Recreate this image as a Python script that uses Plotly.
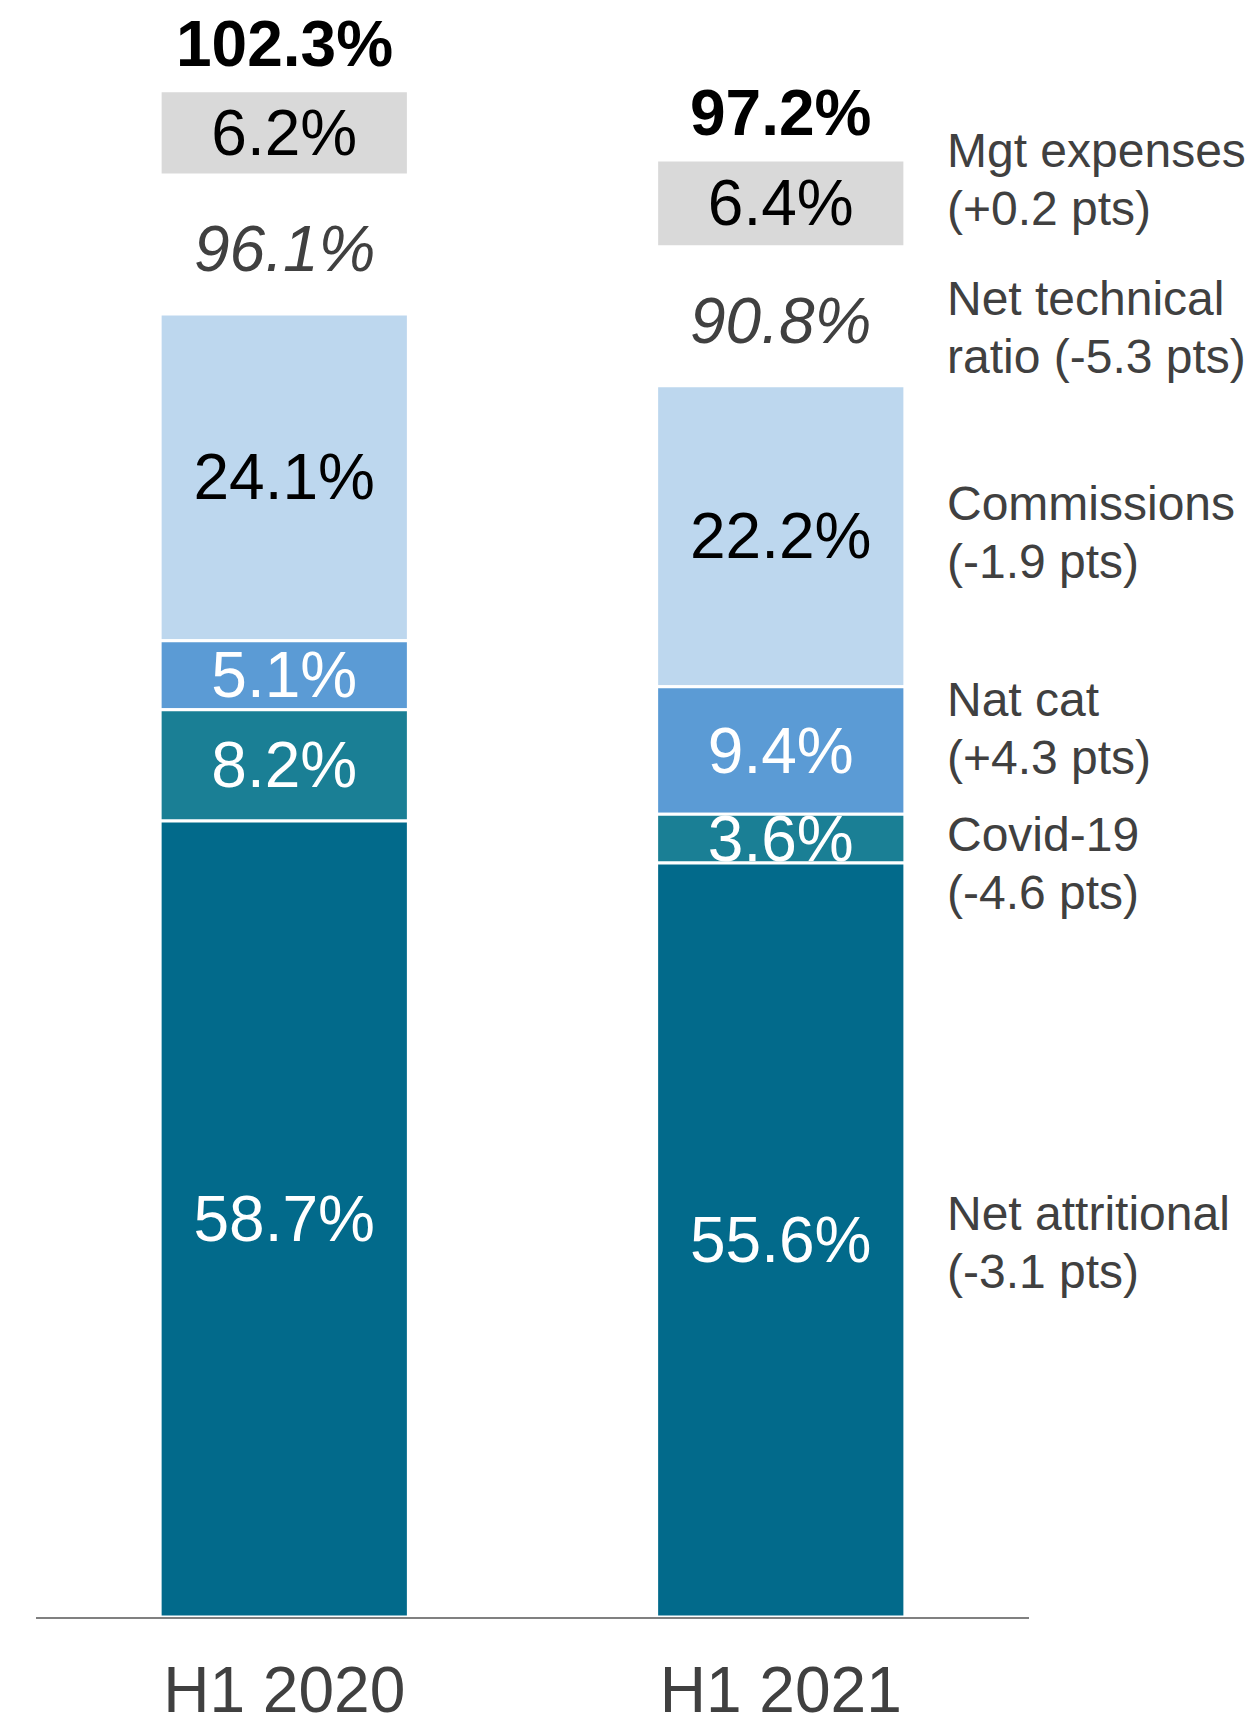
import plotly.graph_objects as go

# Combined ratio breakdown, half-year comparison (% of net earned premium)
periods = ["H1 2020", "H1 2021"]
net_attritional = [58.7, 55.6]
covid = [8.2, 3.6]
nat_cat = [5.1, 9.4]
commissions = [24.1, 22.2]
mgt_expenses = [6.2, 6.4]

# Right-hand legend text, one entry per component (two lines each)
side_labels = [
    ("Mgt expenses", "(+0.2 pts)"),
    ("Net technical", "ratio (-5.3 pts)"),
    ("Commissions", "(-1.9 pts)"),
    ("Nat cat", "(+4.3 pts)"),
    ("Covid-19", "(-4.6 pts)"),
    ("Net attritional", "(-3.1 pts)"),
]

# Derived totals
net_technical = [a + b + c + d for a, b, c, d in zip(net_attritional, covid, nat_cat, commissions)]
combined = [n + m for n, m in zip(net_technical, mgt_expenses)]

# Layout constants
FONT = "Liberation Sans, Arial, sans-serif"
BIG = 64
SMALL = 48
GAP = 10.25            # blank band between technical ratio and expenses box
Y_MAX = 119.25
LINE_PX = 29           # half line pitch of the two-line side labels
SIDE_X = 0.9155
SIDE_Y = [106.0, 95.1, 80.0, 65.5, 55.6, 27.6]

# Stack bases
base_attr = [0.0, 0.0]
base_covid = [a for a in net_attritional]
base_nat = [b + c for b, c in zip(base_covid, covid)]
base_comm = [b + n for b, n in zip(base_nat, nat_cat)]
base_mgt = [t + GAP for t in net_technical]

segments = [
    ("Mgt expenses", mgt_expenses, base_mgt, "#d9d9d9", "#000000"),
    ("Commissions", commissions, base_comm, "#bdd7ee", "#000000"),
    ("Nat cat", nat_cat, base_nat, "#5b9bd5", "#ffffff"),
    ("Covid-19", covid, base_covid, "#1a7f95", "#ffffff"),
    ("Net attritional", net_attritional, base_attr, "#026a8b", "#ffffff"),
]

fig = go.Figure()
for name, vals, base, color, tcolor in segments:
    fig.add_trace(go.Bar(
        x=periods, y=vals, base=base, name=name,
        width=0.5,
        marker=dict(color=color, line=dict(color="white", width=3)),
        text=[f"{v:.1f}%" for v in vals],
        textposition="inside",
        insidetextanchor="middle",
        constraintext="none",
        textfont=dict(family=FONT, size=BIG, color=tcolor),
        cliponaxis=False,
        hoverinfo="skip",
    ))

annotations = []
# Net technical ratio, italic, inside the blank band
for p, n in zip(periods, net_technical):
    annotations.append(dict(
        x=p, y=n + GAP / 2, xref="x", yref="y", text=f"<i>{n:.1f}%</i>",
        showarrow=False, yanchor="middle", yshift=-5,
        font=dict(family=FONT, size=BIG, color="#404040"),
    ))
# Combined ratio, bold, above the expenses box
for p, b, m, c in zip(periods, base_mgt, mgt_expenses, combined):
    annotations.append(dict(
        x=p, y=b + m, xref="x", yref="y", text=f"<b>{c:.1f}%</b>",
        showarrow=False, yanchor="bottom", yshift=9,
        font=dict(family=FONT, size=BIG, color="#000000"),
    ))
# Side labels
for (l1, l2), y in zip(side_labels, SIDE_Y):
    for txt, shift in ((l1, LINE_PX), (l2, -LINE_PX)):
        annotations.append(dict(
            x=SIDE_X, y=y, xref="paper", yref="y", text=txt,
            showarrow=False, xanchor="left", yanchor="middle", yshift=shift,
            font=dict(family=FONT, size=SMALL, color="#404040"),
        ))

fig.update_layout(
    width=1251, height=1718,
    margin=dict(l=36, r=222, t=0, b=101, autoexpand=False),
    barmode="overlay",
    showlegend=False,
    plot_bgcolor="white", paper_bgcolor="white",
    annotations=annotations,
    xaxis=dict(
        type="category", range=[-0.5, 1.5], automargin=False,
        showline=True, linecolor="#808080", linewidth=2,
        showgrid=False, zeroline=False, ticks="",
        ticklabelstandoff=16,
        tickfont=dict(family=FONT, size=BIG, color="#404040"),
    ),
    yaxis=dict(range=[0, Y_MAX], visible=False, showgrid=False, zeroline=False,
               automargin=False),
)

fig.write_html("out.html")
